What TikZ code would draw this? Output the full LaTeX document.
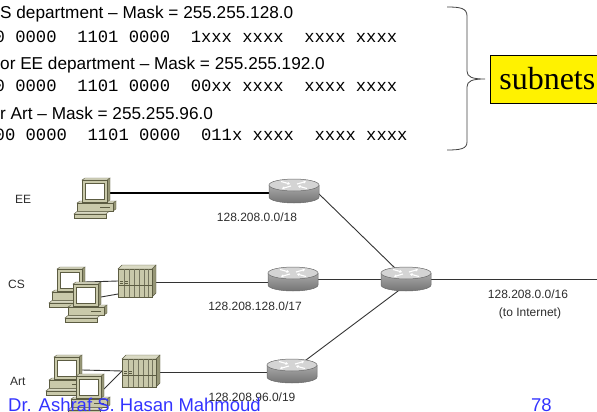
\documentclass[tikz,border=0pt]{standalone}
\usepackage{fontspec}
\setmainfont{Liberation Sans}
\newfontfamily\binfont{Liberation Mono}
\newfontfamily\titlefont{Liberation Serif}
\usetikzlibrary{arrows.meta,backgrounds}

\definecolor{pcbody}{RGB}{201,201,170}
\definecolor{pcside}{RGB}{150,150,118}
\definecolor{pcline}{RGB}{92,92,66}
\definecolor{rtop}{RGB}{212,212,212}
\definecolor{rside}{RGB}{155,155,155}
\definecolor{rline}{RGB}{105,105,105}
\definecolor{footblue}{RGB}{51,51,255}
\definecolor{labelgray}{RGB}{45,45,45}

\tikzset{
  % workstation: monitor on a desktop case, keyboard in front
  pc/.pic={
    \filldraw[fill=pcside, draw=pcline, line width=0.4pt] (17,11) -- (20,9) -- (20,17) -- (17,19) -- cycle;
    \filldraw[fill=pcbody!70!white, draw=pcline, line width=0.4pt] (-19,11) -- (-16,9) -- (20,9) -- (17,11) -- cycle;
    \filldraw[fill=pcbody, draw=pcline, line width=0.4pt] (-19,11) rectangle (17,19);
    \draw[pcline, line width=0.4pt] (4,15) -- (14,15);
    \filldraw[fill=pcbody!70!white, draw=pcline, line width=0.4pt] (-22,22) -- (-19,19.5) -- (13,19.5) -- (10,22) -- cycle;
    \filldraw[fill=pcbody, draw=pcline, line width=0.4pt] (-22,22) rectangle (10,26);
    \filldraw[fill=pcside, draw=pcline, line width=0.4pt] (11,-12) -- (14,-14) -- (14,8) -- (11,10) -- cycle;
    \filldraw[fill=pcbody!70!white, draw=pcline, line width=0.4pt] (-14,-12) -- (-11,-14) -- (14,-14) -- (11,-12) -- cycle;
    \filldraw[fill=pcbody, draw=pcline, line width=0.4pt] (-14,-12) rectangle (11,10);
    \filldraw[fill=white, draw=pcline, line width=0.5pt] (-11,-9) rectangle (8,7);
    \coordinate (-port) at (14,1);
  },
  % rack server with vertical slats
  server/.pic={
    \filldraw[fill=pcside, draw=pcline, line width=0.4pt] (17,-14) -- (21,-18) -- (21,10) -- (17,14) -- cycle;
    \filldraw[fill=pcbody!70!white, draw=pcline, line width=0.4pt] (-17,-14) -- (-13,-18) -- (21,-18) -- (17,-14) -- cycle;
    \filldraw[fill=pcbody, draw=pcline, line width=0.4pt] (-17,-14) rectangle (17,14);
    \foreach \sx in {-11,-6,-1,4,9,13}
      \draw[pcline!85, line width=0.7pt] (\sx,-14) -- (\sx,14);
    \draw[pcline, line width=0.4pt] (-17,2) -- (17,2);
    \draw[pcline, line width=0.6pt] (-15,-2) -- (-12,-2) (-15,0) -- (-12,0) (-10,-2) -- (-7,-2) (-10,0) -- (-7,0);
    \coordinate (-east) at (21,-1);
    \coordinate (-w1) at (-17,-2);
    \coordinate (-w2) at (-17,11);
  },
  router/.style={minimum width=52pt, minimum height=26pt, inner sep=0pt,
    path picture={
      \begin{scope}[shift={(path picture bounding box.center)}]
        \shade[top color=rside!85!white, bottom color=rside!75!black]
          (-25,-6) -- (-25,6) arc[start angle=180, end angle=0, x radius=25, y radius=6] -- (25,-6) -- cycle;
        \draw[rline, line width=0.5pt]
          (-25,-6) -- (-25,6) arc[start angle=180, end angle=0, x radius=25, y radius=6] -- (25,-6);
        \filldraw[fill=rtop, draw=rline, line width=0.5pt] (0,-6) ellipse[x radius=25, y radius=6];
        \begin{scope}[white, line width=1.1pt, -{Stealth[length=2.6pt,width=3.2pt]}]
          \draw (-3,-5) -- (-12,-2.5);
          \draw (3,-7) -- (12,-9.5);
          \draw (-13,-9.5) -- (-4,-7);
          \draw (13,-2.5) -- (4,-5);
        \end{scope}
      \end{scope}}},
  masktext/.style={anchor=base west, inner sep=0pt, font=\fontsize{17.2}{20}\selectfont},
  bintext/.style={anchor=base west, inner sep=0pt, font=\binfont\fontsize{17.2}{20}\selectfont},
  netlabel/.style={inner sep=0pt, text=labelgray, font=\fontsize{12}{14}\selectfont},
  deptlabel/.style={anchor=west, inner sep=0pt, text=labelgray, font=\fontsize{12}{14}\selectfont},
  link/.style={draw=black!80, line width=0.9pt},
  footer/.style={anchor=base west, inner sep=0pt, text=footblue, font=\fontsize{18.5}{20}\selectfont}
}

\begin{document}
\begin{tikzpicture}[x=1pt, y=-1pt]
\clip (0,0) rectangle (597,412);

% address masks
\node[masktext] (m1) at (0,18.3) {S department – Mask = 255.255.128.0};
\node[bintext]  (b1) at (-5.5,43) {0 0000~~1101 0000~~1xxx xxxx~~xxxx xxxx};
\node[masktext] (m2) at (0,70) {or EE department – Mask = 255.255.192.0};
\node[bintext]  (b2) at (-5.5,92) {0 0000~~1101 0000~~00xx xxxx~~xxxx xxxx};
\node[masktext] (m3) at (0,119) {r Art – Mask = 255.255.96.0};
\node[bintext]  (b3) at (-5.5,140) {00 0000~~1101 0000~~011x xxxx~~xxxx xxxx};

% brace and tag
\coordinate (bracetop) at (447,7);
\coordinate (bracetip) at (485,79);
\coordinate (bracebot) at (447,150);
\draw[black!75, line width=0.8pt]
  (bracetop) .. controls (460,7) and (467,8) .. (467,16) -- (467,71)
  .. controls (467,77) and (472,79) .. (bracetip)
  .. controls (472,79) and (467,81) .. (467,87) -- (467,142)
  .. controls (467,149) and (460,150) .. (bracebot);
\node[draw=black, fill=yellow, line width=0.6pt, anchor=west, minimum height=48pt,
      inner xsep=9pt, inner ysep=0pt, font=\titlefont\fontsize{32}{34}\selectfont]
  (tag) at (490,79) {subnets};

% routers
\node[router] (r1) at (294,191) {};
\node[router] (r2) at (293,279) {};
\node[router] (r3) at (292,371) {};
\node[router] (hub) at (406,279) {};
\coordinate (inet) at (597,279);

% hosts
\pic (eepc) at (96,192) {pc};
\pic (cspcA) at (71,281) {pc};
\pic (srvcs) at (135,283) {server};
\pic (cspcB) at (87,296) {pc};
\pic (artpcA) at (68,369) {pc};
\pic (srvart) at (139,373) {server};
\pic (artpcB) at (90,388) {pc};

% labels
\node[deptlabel] (ee) at (15,199) {EE};
\node[deptlabel] (cs) at (8,284) {CS};
\node[deptlabel] (art) at (10,381) {Art};
\node[netlabel] (l18) at (257,217) {128.208.0.0/18};
\node[netlabel] (l17) at (255,306) {128.208.128.0/17};
\node[netlabel] (l19) at (252,397) {128.208.96.0/19};
\node[netlabel] (l16) at (528,294) {128.208.0.0/16};
\node[netlabel] (linet) at (530,313) {(to Internet)};

% footer
\node[footer] (author) at (8,411) {Dr. Ashraf S. Hasan Mahmoud};
\node[footer] (page) at (531,411) {78};

% links, kept beneath the icons
\begin{scope}[on background layer]
  \draw[black, line width=1.8pt] (eepc-port) -- (eepc-port -| r1.center);
  \draw[link] (cspcA-port) -- (srvcs-w1);
  \draw[link] (cspcB-port) -- (srvcs-w2);
  \draw[link] (srvcs-east) -- (srvcs-east -| r2.center);
  \draw[link] (artpcA-port) -- (srvart-w1);
  \draw[link] (artpcB-port) -- (srvart-w1);
  \draw[link] (srvart-east) -- (srvart-east -| r3.center);
  \draw[link] ([shift={(24,2)}]r1.center) -- ([shift={(-8,-8)}]hub.center);
  \draw[link] (r2.center) -- (hub.center);
  \draw[link] ([shift={(0,6)}]hub.center) -- ([shift={(6,-5)}]r3.center);
  \draw[link] (hub.center) -- (inet);
\end{scope}
\end{tikzpicture}
\end{document}
